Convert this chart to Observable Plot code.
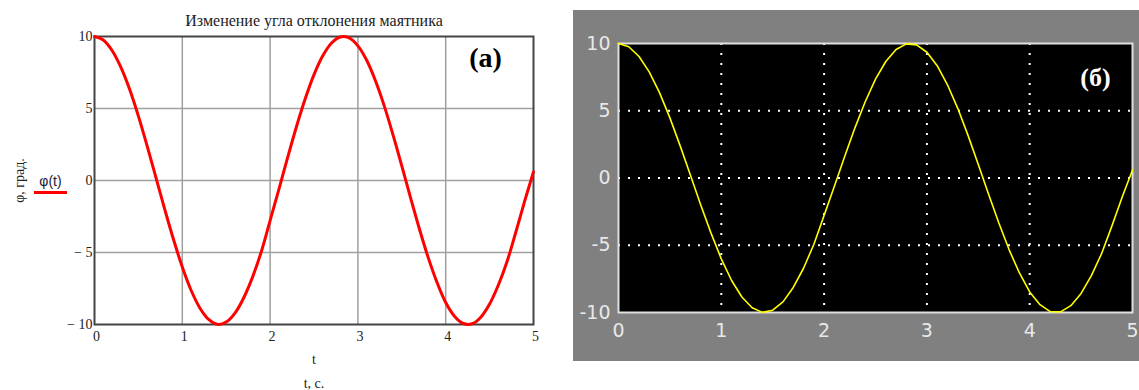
<!DOCTYPE html>
<html>
<head>
<meta charset="utf-8">
<script src="https://cdn.jsdelivr.net/npm/d3@7"></script>
<script src="https://cdn.jsdelivr.net/npm/@observablehq/plot@0.6"></script>
<style>
  html, body { margin: 0; padding: 0; background: white; }
  #wrap { position: relative; width: 1139px; height: 390px; overflow: hidden; }
  #panelA { position: absolute; left: 0; top: 0; }
  #panelB { position: absolute; left: 573px; top: 10px; }
  #legend { position: absolute; left: 34px; top: 173px; width: 33px; text-align: center;
            font: 14px "Liberation Sans", sans-serif; color: #1a1a3a; line-height: 16px; }
  #legend .bar { margin-top: 2px; height: 3px; background: #ff0000; }
</style>
</head>
<body>
<div id="wrap">
  <div id="panelA"></div>
  <div id="panelB"></div>
  <div id="legend">φ(t)<div class="bar"></div></div>
</div>
<script>
// Time samples (s) and pendulum angle φ (deg)
const times = [0.0,0.1,0.2,0.3,0.4,0.5,0.6,0.7,0.8,0.9,
               1.0,1.1,1.2,1.3,1.4,1.5,1.6,1.7,1.8,1.9,
               2.0,2.1,2.2,2.3,2.4,2.5,2.6,2.7,2.8,2.9,
               3.0,3.1,3.2,3.3,3.4,3.5,3.6,3.7,3.8,3.9,
               4.0,4.1,4.2,4.3,4.4,4.5,4.6,4.7,4.8,4.9,5.0];
const phi =   [10.0,9.76,9.03,7.87,6.33,4.47,2.39,0.20,-2.00,-4.10,
               -6.01,-7.62,-8.85,-9.65,-9.99,-9.83,-9.21,-8.14,-6.71,-4.94,
               -2.78,-0.61,1.60,3.73,5.67,7.35,8.66,9.55,9.97,9.90,
               9.35,8.35,6.93,5.18,3.17,1.01,-1.20,-3.35,-5.34,-7.06,
               -8.47,-9.42,-9.93,-9.95,-9.49,-8.58,-7.26,-5.61,-3.56,-1.42,0.60];
const xTicks = [0,1,2,3,4,5];
const yTicks = [-10,-5,0,5,10];
const xGrid = [1,2,3,4];
const yGrid = [-5,0,5];
const titleA = "Изменение угла отклонения маятника";
const xExprA = "t";
const xLabelA = "t, c.";
const yLabelA = "φ, град.";
const tagA = "(а)";
const tagB = "(б)";

const data = times.map((t, i) => ({t, phi: phi[i]}));

// ---------- Panel (a): Mathcad style ----------
const serif = "'Liberation Serif', 'Times New Roman', serif";
const plotA = Plot.plot({
  width: 560, height: 390,
  marginLeft: 94, marginRight: 27, marginTop: 36, marginBottom: 66,
  style: {background: "white", fontFamily: serif, overflow: "visible"},
  x: {domain: [0, 5]},
  y: {domain: [-10, 10]},
  marks: [
    Plot.gridX(xGrid, {stroke: "#a0a0a0", strokeOpacity: 1, strokeWidth: 1.5}),
    Plot.gridY(yGrid, {stroke: "#a0a0a0", strokeOpacity: 1, strokeWidth: 1.5}),
    Plot.frame({stroke: "#444", strokeWidth: 2}),
    Plot.axisX(xTicks, {tickSize: 0, tickPadding: 7, fontSize: 14, fill: "#222", dx: 2, label: null,
                        fontFamily: serif}),
    Plot.axisY(yTicks, {tickSize: 0, tickPadding: 2, fontSize: 14, fill: "#222", label: null,
                        fontFamily: serif,
                        tickFormat: d => d < 0 ? "\u2212 " + Math.abs(d) : String(d)}),
    Plot.line(data, {x: "t", y: "phi", stroke: "#ff0000", strokeWidth: 3, curve: "catmull-rom"}),
    Plot.text([titleA], {frameAnchor: "top", dy: -16, fontSize: 16, fill: "#222",
                         fontFamily: serif, lineAnchor: "middle"}),
    Plot.text([tagA], {frameAnchor: "top-right", dx: -48, dy: 22, fontSize: 28, fontWeight: "bold",
                       fill: "black", fontFamily: serif, textAnchor: "middle", lineAnchor: "middle"}),
    Plot.text([xExprA], {frameAnchor: "bottom", dy: 35, fontSize: 14, fill: "#222",
                         fontFamily: serif, lineAnchor: "middle"}),
    Plot.text([xLabelA], {frameAnchor: "bottom", dy: 59, fontSize: 14, fill: "#222",
                          fontFamily: serif, lineAnchor: "middle"}),
    Plot.text([yLabelA], {frameAnchor: "left", dx: -75, rotate: -90, fontSize: 14, fill: "#222",
                          fontFamily: serif, textAnchor: "middle", lineAnchor: "middle"})
  ]
});
document.getElementById("panelA").appendChild(plotA);

// ---------- Panel (б): Simulink scope style ----------
const sans = "'DejaVu Sans', sans-serif";
const plotB = Plot.plot({
  width: 566, height: 351,
  marginLeft: 45, marginRight: 7, marginTop: 33, marginBottom: 49,
  style: {background: "#808080", fontFamily: sans, overflow: "visible"},
  x: {domain: [0, 5]},
  y: {domain: [-10, 10]},
  marks: [
    Plot.frame({fill: "black"}),
    Plot.gridX(xGrid, {stroke: "white", strokeOpacity: 1, strokeWidth: 2, strokeDasharray: "2,8"}),
    Plot.gridY(yGrid, {stroke: "white", strokeOpacity: 1, strokeWidth: 2, strokeDasharray: "2,8"}),
    Plot.frame({stroke: "#e0e0e0", strokeWidth: 2}),
    Plot.axisX(xTicks, {tickSize: 0, tickPadding: 11, fontSize: 19, fill: "#e8e8e8", label: null,
                        fontFamily: sans, tickFormat: d => String(d)}),
    Plot.axisY(yTicks, {tickSize: 0, tickPadding: 8, fontSize: 19, fill: "#e8e8e8", label: null,
                        fontFamily: sans, tickFormat: d => String(d)}),
    Plot.line(data, {x: "t", y: "phi", stroke: "#ffff00", strokeWidth: 1.6, curve: "linear"}),
    Plot.text([tagB], {frameAnchor: "top-right", dx: -37, dy: 34, fontSize: 26, fontWeight: "bold",
                       fill: "white", fontFamily: serif, textAnchor: "middle", lineAnchor: "middle"})
  ]
});
document.getElementById("panelB").appendChild(plotB);
</script>
</body>
</html>
